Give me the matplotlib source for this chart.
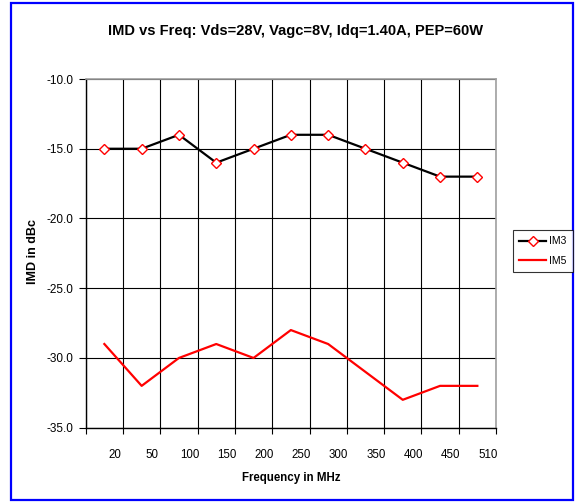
import matplotlib
matplotlib.use("Agg")
import matplotlib.pyplot as plt
from matplotlib.patches import Rectangle
import numpy as np

plt.rcParams['font.family'] = ['Liberation Sans', 'DejaVu Sans']

freq_labels = ["20", "50", "100", "150", "200", "250", "300", "350", "400", "450", "510"]
im3 = [-15, -15, -14, -16, -15, -14, -14, -15, -16, -17, -17]
im5 = [-29, -32, -30, -29, -30, -28, -29, -31, -33, -32, -32]
y_ticks = [-35.0, -30.0, -25.0, -20.0, -15.0, -10.0]

fig = plt.figure(figsize=(5.76, 5.03), dpi=100)
W, H = 576, 503
ax = fig.add_axes([85.7 / W, 1 - 427.7 / H, (496 - 85.7) / W, (427.7 - 79) / H])

n = len(freq_labels)
x = np.arange(n) + 0.5
ax.plot(x, im3, color='black', lw=1.6, marker='D', markersize=5.5,
        markerfacecolor='white', markeredgecolor='red', markeredgewidth=1.0,
        label='IM3', zorder=3)
ax.plot(x, im5, color='red', lw=1.6, label='IM5', zorder=3)

ax.set_xlim(0, n)
ax.set_ylim(-35, -10)
ax.set_yticks(y_ticks)
ax.set_yticklabels([f"{v:.1f}" for v in y_ticks], fontsize=8.5)
ax.set_xticks(np.arange(n + 1), minor=False)
ax.set_xticklabels([])
ax.set_xticks(np.arange(n) + 0.78, minor=True)
ax.set_xticklabels(freq_labels, minor=True, fontsize=8.3)
ax.tick_params(axis='x', which='minor', length=0, pad=15)
ax.tick_params(axis='x', which='major', length=4, width=0.8, direction='out', color='black')
ax.tick_params(axis='y', length=5, width=0.8, direction='out', pad=4)
ax.grid(True, which='major', color='black', lw=0.8)
ax.set_axisbelow(True)

for s in ['top', 'right']:
    ax.spines[s].set_color('#a0a0a0')
    ax.spines[s].set_linewidth(1.2)
for s in ['left', 'bottom']:
    ax.spines[s].set_color('black')
    ax.spines[s].set_linewidth(1.0)

ax.set_xlabel("Frequency in MHz", fontsize=8.3, fontweight='bold', labelpad=8)
fig.text(33 / W, 1 - 252 / H, "IMD in dBc", rotation=90, ha='center', va='center',
         fontsize=9, fontweight='bold')

fig.text(295.5 / W, 1 - 31 / H, "IMD vs Freq: Vds=28V, Vagc=8V, Idq=1.40A, PEP=60W",
         ha='center', va='center', fontsize=10.5, fontweight='bold')

leg = fig.legend(loc='upper left', bbox_to_anchor=(513 / W, 1 - 230 / H),
                 fontsize=7.5, frameon=True, fancybox=False, edgecolor='black',
                 handlelength=2.6, borderpad=0.6, labelspacing=0.9, handletextpad=0.3,
                 borderaxespad=0)
leg.get_frame().set_linewidth(0.8)

fig.patches.append(Rectangle((11 / W, 1 - 500 / H), (573 - 11) / W, (500 - 3) / H,
                             transform=fig.transFigure, fill=False, edgecolor='blue', lw=1.6))

fig.savefig("out.png", dpi=100)
